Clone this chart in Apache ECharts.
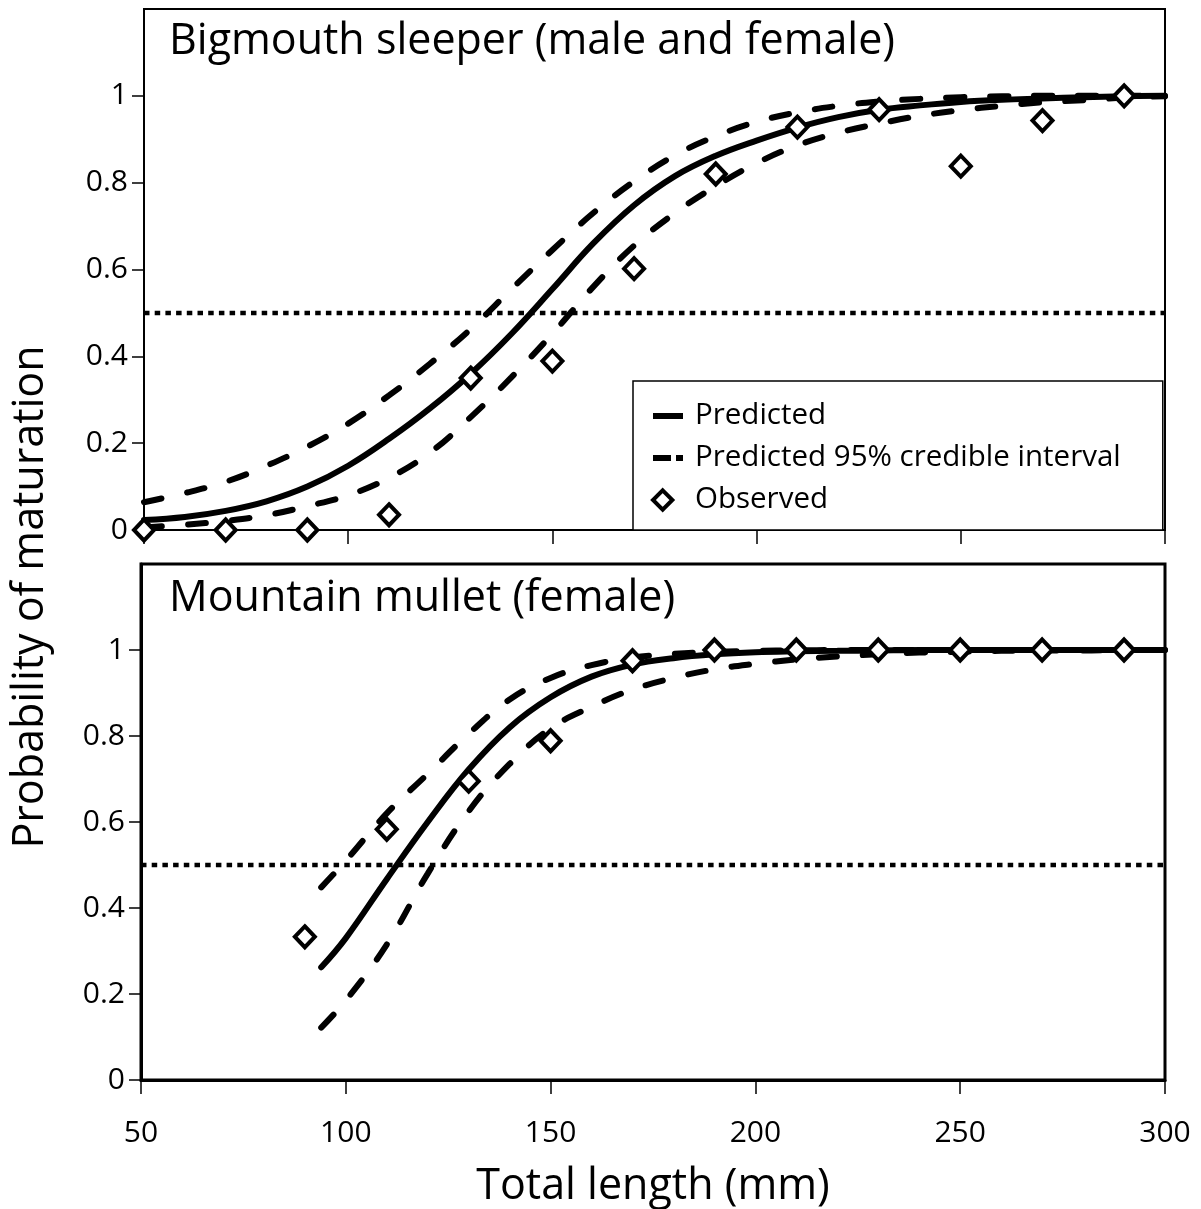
<!DOCTYPE html>
<html>
<head>
<meta charset="utf-8">
<script src="https://cdn.jsdelivr.net/npm/echarts@6.0.0/dist/echarts.min.js"></script>
<style>
  html, body { margin: 0; padding: 0; background: #fff; }
  #chart { width: 1201px; height: 1209px; }
</style>
</head>
<body>
<div id="chart"></div>
<script>
// Fitted maturation curves (probability vs total length, mm)
const topLength = [50, 60, 70, 80, 90, 100, 110, 120, 130, 140, 150, 160, 170, 180, 190, 200, 210, 220, 230, 240, 250, 260, 270, 280, 290, 300];
const topPredicted = [0.023, 0.030, 0.044, 0.066, 0.10, 0.148, 0.21, 0.28, 0.36, 0.452, 0.555, 0.66, 0.748, 0.815, 0.862, 0.897, 0.927, 0.951, 0.968, 0.978, 0.986, 0.991, 0.994, 0.997, 0.999, 1.0];
const topUpper = [0.064, 0.085, 0.111, 0.148, 0.192, 0.245, 0.31, 0.383, 0.463, 0.555, 0.645, 0.73, 0.803, 0.863, 0.907, 0.94, 0.962, 0.977, 0.987, 0.993, 0.997, 0.999, 1.0, 1.0, 1.0, 1.0];
const topLower = [0.006, 0.012, 0.021, 0.034, 0.055, 0.08, 0.12, 0.178, 0.26, 0.352, 0.452, 0.56, 0.655, 0.73, 0.792, 0.845, 0.886, 0.915, 0.936, 0.954, 0.967, 0.977, 0.985, 0.99, 0.996, 0.999];

const bottomLength = [94, 100, 110, 120, 130, 140, 150, 160, 170, 180, 190, 200, 210, 220, 230, 240, 250, 260, 270, 280, 290, 300];
const bottomPredicted = [0.262, 0.33, 0.467, 0.60, 0.722, 0.82, 0.89, 0.938, 0.966, 0.981, 0.99, 0.995, 0.997, 0.998, 0.999, 1, 1, 1, 1, 1, 1, 1];
const bottomUpper = [0.448, 0.51, 0.62, 0.712, 0.805, 0.885, 0.935, 0.965, 0.982, 0.991, 0.996, 0.998, 0.999, 1, 1, 1, 1, 1, 1, 1, 1, 1];
const bottomLower = [0.122, 0.185, 0.315, 0.48, 0.625, 0.735, 0.818, 0.868, 0.908, 0.935, 0.955, 0.968, 0.978, 0.985, 0.99, 0.994, 0.996, 0.998, 0.999, 0.999, 1, 1];

// Observed proportion mature per length class
const topObsLength = [50, 70, 90, 110, 130, 150, 170, 190, 210, 230, 250, 270, 290];
const topObserved = [0, 0, 0, 0.035, 0.35, 0.389, 0.602, 0.82, 0.928, 0.968, 0.838, 0.943, 1.0];
const bottomObsLength = [90, 110, 130, 150, 170, 190, 210, 230, 250, 270, 290];
const bottomObserved = [0.333, 0.583, 0.695, 0.789, 0.975, 1, 1, 1, 1, 1, 1];

// 50% maturity reference line
const halfLength = [50, 300];
const halfValue = [0.5, 0.5];

const yTicks = [0, 0.2, 0.4, 0.6, 0.8, 1];
const panelTitles = ['Bigmouth sleeper (male and female)', 'Mountain mullet (female)'];
const xAxisTitle = 'Total length (mm)';
const yAxisTitle = 'Probability of maturation';
const legendNames = ['Predicted', 'Predicted 95% credible interval', 'Observed'];

const FONT = '"Open Sans", "Noto Sans", sans-serif';
const pairs = (xs, ys) => xs.map((x, i) => [x, ys[i]]);

const chart = echarts.init(document.getElementById('chart'), null, { renderer: 'canvas' });

function xAxisFor(gridIndex, showLabels, lineWidth) {
  return {
    type: 'value', gridIndex, min: 50, max: 300, interval: 50,
    axisLine: { show: true, onZero: false, lineStyle: { color: '#000', width: lineWidth } },
    axisTick: { show: true, inside: false, length: 14, lineStyle: { color: '#000', width: 1.5 } },
    axisLabel: { show: showLabels, color: '#000', fontFamily: FONT, fontSize: 30, margin: 38 },
    splitLine: { show: false },
    name: showLabels ? xAxisTitle : '',
    nameLocation: 'middle', nameGap: 85,
    nameTextStyle: { color: '#000', fontFamily: FONT, fontSize: 43 }
  };
}
function yAxisFor(gridIndex, lineWidth) {
  return {
    type: 'value', gridIndex, min: 0, max: 1.2, interval: 0.2,
    axisLine: { show: true, onZero: false, lineStyle: { color: '#000', width: lineWidth } },
    axisTick: { show: true, inside: false, length: 12, customValues: yTicks, lineStyle: { color: '#000', width: 1.5 } },
    axisLabel: {
      color: '#000', fontFamily: FONT, fontSize: 30, margin: 16, customValues: yTicks,
      formatter: v => String(Math.round(v * 10) / 10)
    },
    splitLine: { show: false }
  };
}
function curve(name, gi, xs, ys, dashed) {
  return {
    name, type: 'line', xAxisIndex: gi, yAxisIndex: gi,
    data: pairs(xs, ys), smooth: 0.4,
    symbol: 'none', showSymbol: false, clip: false, z: 3,
    itemStyle: { color: '#000' },
    lineStyle: dashed
      ? { color: '#000', width: 6, type: [18, 26], cap: 'round' }
      : { color: '#000', width: 6, cap: 'round' },
    emphasis: { disabled: true }
  };
}
function halfLine(gi) {
  return {
    name: 'half', type: 'line', xAxisIndex: gi, yAxisIndex: gi,
    data: pairs(halfLength, halfValue), symbol: 'none', clip: false, z: 2,
    lineStyle: { color: '#000', width: 4.5, type: [5.5, 5.2], cap: 'butt' },
    emphasis: { disabled: true }
  };
}
function observed(gi, xs, ys) {
  return {
    name: 'Observed', type: 'scatter', xAxisIndex: gi, yAxisIndex: gi,
    data: pairs(xs, ys), symbol: 'diamond', symbolSize: [20, 21], clip: false, z: 5,
    itemStyle: { color: '#fff', borderColor: '#000', borderWidth: 4, opacity: 1 },
    emphasis: { disabled: true }
  };
}

const hiddenMarker = { color: 'rgba(0,0,0,0)', borderColor: 'rgba(0,0,0,0)', borderWidth: 0, opacity: 0 };

chart.setOption({
  animation: false,
  backgroundColor: '#fff',
  textStyle: { fontFamily: FONT },
  grid: [
    { left: 144, right: 36, top: 9, height: 521, show: true, borderColor: '#000', borderWidth: 2, backgroundColor: 'transparent' },
    { left: 141, right: 36, top: 564, height: 520, show: true, borderColor: '#000', borderWidth: 3, backgroundColor: 'transparent' }
  ],
  title: [
    { text: panelTitles[0], left: 164, top: 15, textStyle: { color: '#000', fontFamily: FONT, fontSize: 43, fontWeight: 'normal' } },
    { text: panelTitles[1], left: 164, top: 572, textStyle: { color: '#000', fontFamily: FONT, fontSize: 43, fontWeight: 'normal' } }
  ],
  graphic: [
    { type: 'text', x: 31, y: 597, rotation: Math.PI / 2,
      style: { text: yAxisTitle, fill: '#000', font: '43px ' + FONT, align: 'center', verticalAlign: 'middle' } }
  ],
  legend: {
    orient: 'vertical', left: 633, top: 381,
    padding: [20, 42, 15, 17], itemGap: 12, itemWidth: 30, itemHeight: 20,
    backgroundColor: '#fff', borderColor: '#000', borderWidth: 1.5,
    selectedMode: false,
    textStyle: { color: '#000', fontFamily: FONT, fontSize: 29.5, lineHeight: 28, padding: [0, 0, 0, 7] },
    data: [
      { name: legendNames[0], itemStyle: hiddenMarker, lineStyle: { color: '#000', width: 6, type: 'solid', cap: 'butt' } },
      { name: legendNames[1], itemStyle: hiddenMarker, lineStyle: { color: '#000', width: 6, type: [18, 5], cap: 'butt' } },
      { name: legendNames[2], icon: 'path://M0,0 M30,20 M9,0 L19,10 L9,20 L-1,10 Z',
        itemStyle: { color: '#fff', borderColor: '#000', borderWidth: 4, opacity: 1 } }
    ]
  },
  xAxis: [xAxisFor(0, false, 2), xAxisFor(1, true, 3)],
  yAxis: [yAxisFor(0, 2), yAxisFor(1, 3)],
  series: [
    halfLine(0),
    curve(legendNames[1], 0, topLength, topUpper, true),
    curve(legendNames[1], 0, topLength, topLower, true),
    curve(legendNames[0], 0, topLength, topPredicted, false),
    observed(0, topObsLength, topObserved),
    halfLine(1),
    curve(legendNames[1], 1, bottomLength, bottomUpper, true),
    curve(legendNames[1], 1, bottomLength, bottomLower, true),
    curve(legendNames[0], 1, bottomLength, bottomPredicted, false),
    observed(1, bottomObsLength, bottomObserved)
  ]
});
</script>
</body>
</html>
